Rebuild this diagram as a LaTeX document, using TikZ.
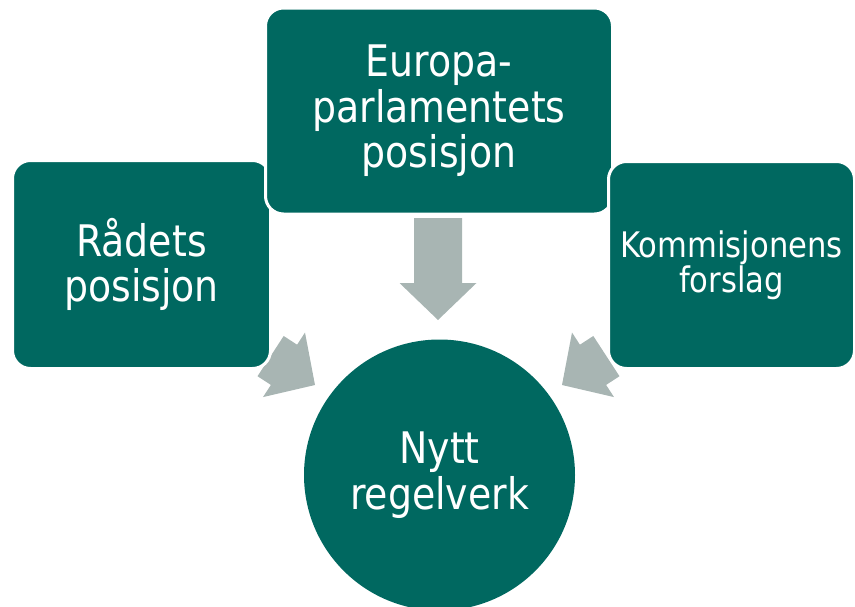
\documentclass[tikz,border=0pt]{standalone}
\usepackage{fontspec}
\setmainfont{DejaVu Sans}[FakeStretch=0.87]
\usetikzlibrary{calc}
\definecolor{tealbox}{RGB}{0,104,96}
\definecolor{arrowgray}{RGB}{168,181,179}
\newcommand{\blockarrow}[2]{%
  \coordinate (#1base) at ($(#2)!37pt!(#1)$);
  \fill[arrowgray]
    ($(#1)!24pt!90:(#2)$) --
    ($(#1base)!24pt!90:(#2)$) --
    ($(#1base)!38.5pt!90:(#2)$) --
    (#2) --
    ($(#1base)!38.5pt!-90:(#2)$) --
    ($(#1base)!24pt!-90:(#2)$) --
    ($(#1)!24pt!-90:(#2)$) -- cycle;}
\begin{document}
\begin{tikzpicture}[x=1pt,y=-1pt,
  box/.style={draw=white, line width=3pt, fill=tealbox, rounded corners=18pt,
    text=white, align=center, inner sep=0pt},
  bigtext/.style={font=\fontsize{43.5}{45.5}\selectfont},
  smalltext/.style={font=\fontsize{35.2}{35}\selectfont},
  hub/.style={circle, fill=tealbox, text=white, align=center, inner sep=0pt,
    minimum size=271pt}]
\useasboundingbox (0,0) rectangle (855,606);
% arrows (under the boxes)
\coordinate (tailT) at (438,218);
\coordinate (tipT) at (438,320);
\coordinate (tailL) at (270.6,356.1);
\coordinate (tipL) at (315,385);
\coordinate (tailR) at (606.4,356.1);
\coordinate (tipR) at (562,385);
\blockarrow{tailT}{tipT}
\blockarrow{tailL}{tipL}
\blockarrow{tailR}{tipR}
% boxes
\node[box, bigtext, minimum width=258pt, minimum height=208pt] (raad) at (141.5,264.5) {Rådets\\posisjon};
\node[box, bigtext, minimum width=347pt, minimum height=206pt] (ep) at (439,111) {Europa-\\parlamentets\\posisjon};
\node[box, smalltext, minimum width=246pt, minimum height=207pt] (kom) at (731.5,265) {Kommisjonens\\forslag};
% hub
\node[hub, bigtext] (nytt) at (439.5,475) {Nytt\\regelverk};
\end{tikzpicture}
\end{document}
